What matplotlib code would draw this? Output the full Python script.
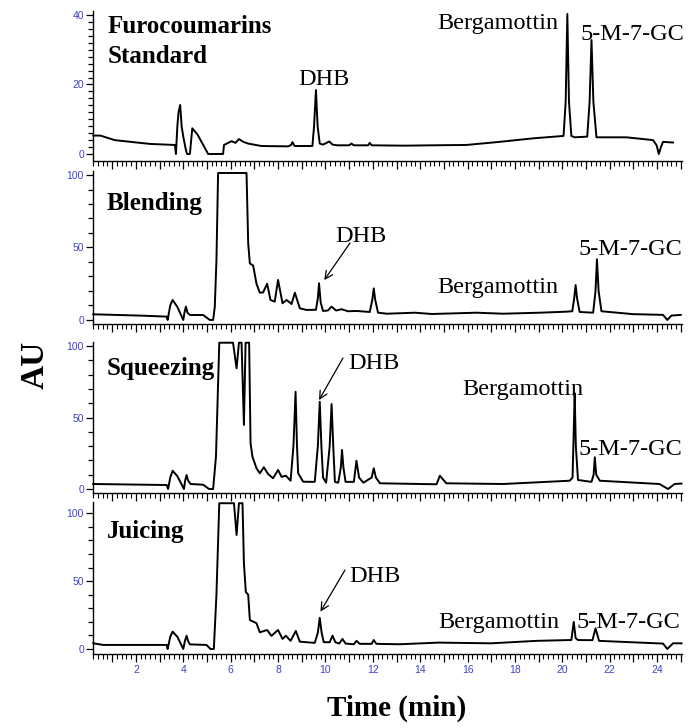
import matplotlib
matplotlib.use("Agg")
import matplotlib.pyplot as plt
from matplotlib.ticker import MultipleLocator, FuncFormatter

# ---- data (time in min, AU) ----
std_t = [0.2, 0.5, 1.1, 1.9, 2.6, 3.65, 3.69, 3.75, 3.8, 3.87, 3.93, 4.0, 4.1, 4.16,
         4.28, 4.38, 4.6, 4.85, 5.05, 5.68, 5.72, 6.04, 6.2, 6.35, 6.53, 6.74, 7.3,
         8.43, 8.55, 8.61, 8.7, 9.45, 9.52, 9.6, 9.67, 9.76, 9.9, 10.16, 10.3, 10.5,
         11.0, 11.1, 11.2, 11.8, 11.87, 11.95, 13.35, 14.5, 15.95, 17.36, 18.76, 20.05,
         20.14, 20.21, 20.28, 20.38, 20.52, 21.05, 21.15, 21.23, 21.31, 21.44, 22.7,
         23.83, 23.98, 24.07, 24.16, 24.25, 24.67]
std_au = [5.3, 5.3, 4.0, 3.4, 2.9, 2.6, 0, 8, 12, 14.1, 8, 5, 1.5, 0,
          0, 7.4, 5.6, 2.5, 0, 0, 2.6, 3.7, 3.2, 4.3, 3.5, 3.0, 2.3,
          2.2, 2.6, 3.4, 2.3, 2.3, 8, 18.4, 8, 3.0, 2.7, 3.6, 2.7, 2.5,
          2.5, 3.0, 2.5, 2.5, 3.2, 2.5, 2.4, 2.5, 2.6, 3.5, 4.5, 5.2,
          15, 40.3, 15, 5.2, 4.8, 5.0, 15, 32.8, 15, 4.8, 4.8,
          4.0, 2.5, 0, 2.0, 3.5, 3.3]

blend_t = [0.2, 2.17, 3.3, 3.34, 3.45, 3.55, 3.75, 4.0, 4.05, 4.11, 4.18, 4.28, 4.84,
           5.12, 5.26, 5.33, 5.4, 5.47, 6.67, 6.74, 6.81, 6.95, 7.09, 7.23, 7.37, 7.54,
           7.68, 7.86, 8.0, 8.19, 8.36, 8.57, 8.71, 8.92, 9.2, 9.6, 9.68, 9.73, 9.8,
           9.9, 10.1, 10.26, 10.45, 10.68, 10.95, 11.31, 11.87, 11.98, 12.04, 12.1,
           12.22, 12.6, 13.77, 14.5, 16.38, 17.5, 19.05, 20.17, 20.42, 20.5, 20.56,
           20.62, 20.73, 21.3, 21.4, 21.46, 21.53, 21.65, 22.98, 24.25, 24.43, 24.6, 25.0]
blend_au = [3.9, 3.0, 2.3, 0, 10, 13.8, 9, 0, 5, 9.2, 5, 3.4, 3.4,
            0, 0, 9, 41, 101.4, 101.4, 53, 39, 37.5, 25, 18.8, 19, 25,
            13.8, 12.6, 27.6, 11.5, 13.8, 11, 18.8, 8, 6.9, 7, 15, 25.3, 12,
            6.2, 6.5, 9.2, 6.5, 7.4, 6, 6.2, 5.5, 14, 21.8, 14,
            5, 4.3, 5, 4.1, 5, 4.3, 5, 5.7, 6, 15, 24.1,
            15, 5.5, 5, 20, 41.9, 20, 6, 4, 3.5, 0, 3, 3.5]

squeeze_t = [0.2, 3.3, 3.36, 3.45, 3.55, 3.75, 4.03, 4.08, 4.14, 4.2, 4.31, 4.84, 5.09,
             5.26, 5.38, 5.52, 6.1, 6.25, 6.35, 6.46, 6.56, 6.63, 6.78, 6.84, 6.92,
             7.09, 7.23, 7.4, 7.58, 7.79, 8.0, 8.15, 8.33, 8.53, 8.65, 8.74, 8.8, 8.85,
             9.06, 9.55, 9.68, 9.76, 9.83, 9.9, 10.03, 10.18, 10.26, 10.33, 10.4, 10.54,
             10.65, 10.7, 10.76, 10.85, 11.2, 11.31, 11.42, 11.6, 11.95, 12.04, 12.13,
             12.3, 14.69, 14.83, 15.1, 17.5, 20.31, 20.43, 20.48, 20.52, 20.57, 20.66,
             21.23, 21.32, 21.37, 21.43, 21.58, 24.1, 24.46, 24.74, 25.03]
squeeze_au = [3.5, 2.8, 0, 8, 12.8, 9, 0, 6, 9.8, 6, 3.5, 3.0, 0,
              0, 22.6, 102.3, 102.3, 84.4, 102.3, 102.3, 44.8, 102.3, 102.3, 32, 22.6,
              14.5, 11, 15.2, 10.5, 7.5, 13.3, 8.5, 9.3, 5.8, 30, 68, 30, 11,
              5.1, 5, 30, 61, 30, 8, 4.4, 30, 59.4, 30, 5, 4.4,
              15, 27.3, 15, 5, 5, 19.8, 8, 4.4, 8, 14.5, 8,
              4, 3.3, 9.3, 4, 3.5, 5.8, 8, 40, 67, 30, 6.3,
              5, 10, 22.2, 10, 5.8, 3.5, 0, 3.5, 3.8]

juice_t = [0.2, 0.62, 3.3, 3.34, 3.45, 3.55, 3.75, 4.0, 4.07, 4.14, 4.2, 4.28, 4.98,
           5.15, 5.29, 5.4, 5.52, 6.14, 6.25, 6.35, 6.5, 6.56, 6.64, 6.74, 6.81, 7.09,
           7.23, 7.54, 7.72, 8.0, 8.19, 8.33, 8.53, 8.75, 8.92, 9.55, 9.68, 9.76, 9.84,
           9.93, 10.18, 10.3, 10.42, 10.58, 10.72, 10.85, 11.2, 11.31, 11.45, 11.95,
           12.04, 12.15, 13.14, 14.76, 17, 18.9, 20.3, 20.38, 20.48, 20.56, 20.66,
           21.27, 21.4, 21.55, 24.25, 24.43, 24.67, 25.03]
juice_au = [4.2, 3, 3, 0, 9, 12.8, 9, 0, 6, 9.8, 6, 3.4, 3,
            0, 0, 40, 107.4, 107.4, 84, 107.4, 107.4, 63, 42, 40, 21.4, 19,
            12.3, 14, 9.7, 14, 7.4, 9.8, 6, 13.3, 5.4, 4.5, 12, 23, 12,
            5, 5, 9.8, 5, 4, 7.4, 4, 3.5, 6, 3.8, 3.8,
            6.6, 3.8, 3.5, 4.7, 4.2, 6, 6.6, 6.6, 20, 8, 6.6,
            6.5, 15.2, 6, 4, 0, 4.2, 4.2]

W, H = 689, 728
SERIF = "Liberation Serif"
TICKBLUE = "#4040c8"

fig = plt.figure(figsize=(W / 100, H / 100), dpi=100)

XL, XR = 93, 682
XLIM = (0.19, 25.05)

# (pixel top, pixel bottom, ylim, major, minor)
panels = [
    (std_t, std_au, 11.5, 160.5, (-1.87, 41), 20, 2),
    (blend_t, blend_au, 171.4, 324, (-2.8, 102.5), 50, 10),
    (squeeze_t, squeeze_au, 342, 493.3, (-3.0, 102.8), 50, 10),
    (juice_t, juice_au, 502, 654.3, (-3.9, 108.3), 50, 10),
]

axes = []
for i, (t, au, ptop, pbot, ylim, maj, mnr) in enumerate(panels):
    ax = fig.add_axes([XL / W, 1 - pbot / H, (XR - XL) / W, (pbot - ptop) / H])
    ax.plot(t, au, color="black", lw=1.4, solid_joinstyle="round", clip_on=False)
    ax.set_xlim(*XLIM)
    ax.set_ylim(*ylim)
    for s in ["top", "right"]:
        ax.spines[s].set_visible(False)
    ax.spines["left"].set_linewidth(1.0)
    ax.spines["bottom"].set_linewidth(1.0)
    ax.yaxis.set_major_locator(MultipleLocator(maj))
    ax.yaxis.set_minor_locator(MultipleLocator(mnr))
    ax.xaxis.set_major_locator(MultipleLocator(1))
    ax.xaxis.set_minor_locator(MultipleLocator(0.2))
    ax.tick_params(axis="y", which="major", length=5, width=0.9, pad=1.5,
                   labelsize=7.5, labelcolor=TICKBLUE)
    ax.tick_params(axis="y", which="minor", length=3.5, width=0.9)
    ax.tick_params(axis="x", which="major", length=5.5, width=0.9, pad=2,
                   labelsize=7.5, labelcolor=TICKBLUE)
    ax.tick_params(axis="x", which="minor", length=3.5, width=0.8)
    for lab in ax.get_yticklabels():
        lab.set_family("Liberation Sans")
    if i < 3:
        ax.set_xticklabels([])
    else:
        ax.xaxis.set_major_formatter(FuncFormatter(
            lambda v, p: str(int(round(v))) if round(v) % 2 == 0 and v > 1 else ""))
        for lab in ax.get_xticklabels():
            lab.set_family("Liberation Sans")
    ax.patch.set_alpha(0)
    axes.append(ax)


def ftxt(x, y, s, **kw):
    fig.text(x / W, 1 - y / H, s, va="baseline", family=SERIF, **kw)


# sample names
for x, y, s in [(108, 33, "Furocoumarins"), (108, 63, "Standard"),
                (107, 210, "Blending"), (107, 375, "Squeezing"), (107, 538, "Juicing")]:
    ftxt(x, y, s, fontsize=18, fontweight="bold")

# compound labels
labels = [
    (437, 29, "Bergamottin"), (580, 40, "5-M-7-GC"), (298, 85, "DHB"),
    (335, 242, "DHB"), (437, 293, "Bergamottin"), (578, 255, "5-M-7-GC"),
    (348, 369, "DHB"), (462, 395, "Bergamottin"), (578, 455, "5-M-7-GC"),
    (349, 582, "DHB"), (438, 628, "Bergamottin"), (576, 628, "5-M-7-GC"),
]
for x, y, s in labels:
    ftxt(x, y, s, fontsize=17.5)

# arrows to DHB peaks
arrows = [(1, (9.95, 27.5), (350, 243)),
          (2, (9.73, 62.2), (343, 358)),
          (3, (9.79, 27.5), (345, 570))]
for k, tip, tail in arrows:
    axes[k].annotate("", xy=tip, xycoords="data",
                     xytext=(tail[0] / W, 1 - tail[1] / H), textcoords="figure fraction",
                     arrowprops=dict(arrowstyle="->", lw=0.9, color="black",
                                     mutation_scale=14, shrinkA=0, shrinkB=0))

fig.text(35 / W, 1 - 365 / H, "AU", rotation=90, ha="center", va="center",
         family=SERIF, fontsize=24, fontweight="bold")
fig.text(397 / W, 1 - 716 / H, "Time (min)", ha="center", va="baseline",
         family=SERIF, fontsize=21, fontweight="bold")

fig.savefig("out.png", dpi=100)
